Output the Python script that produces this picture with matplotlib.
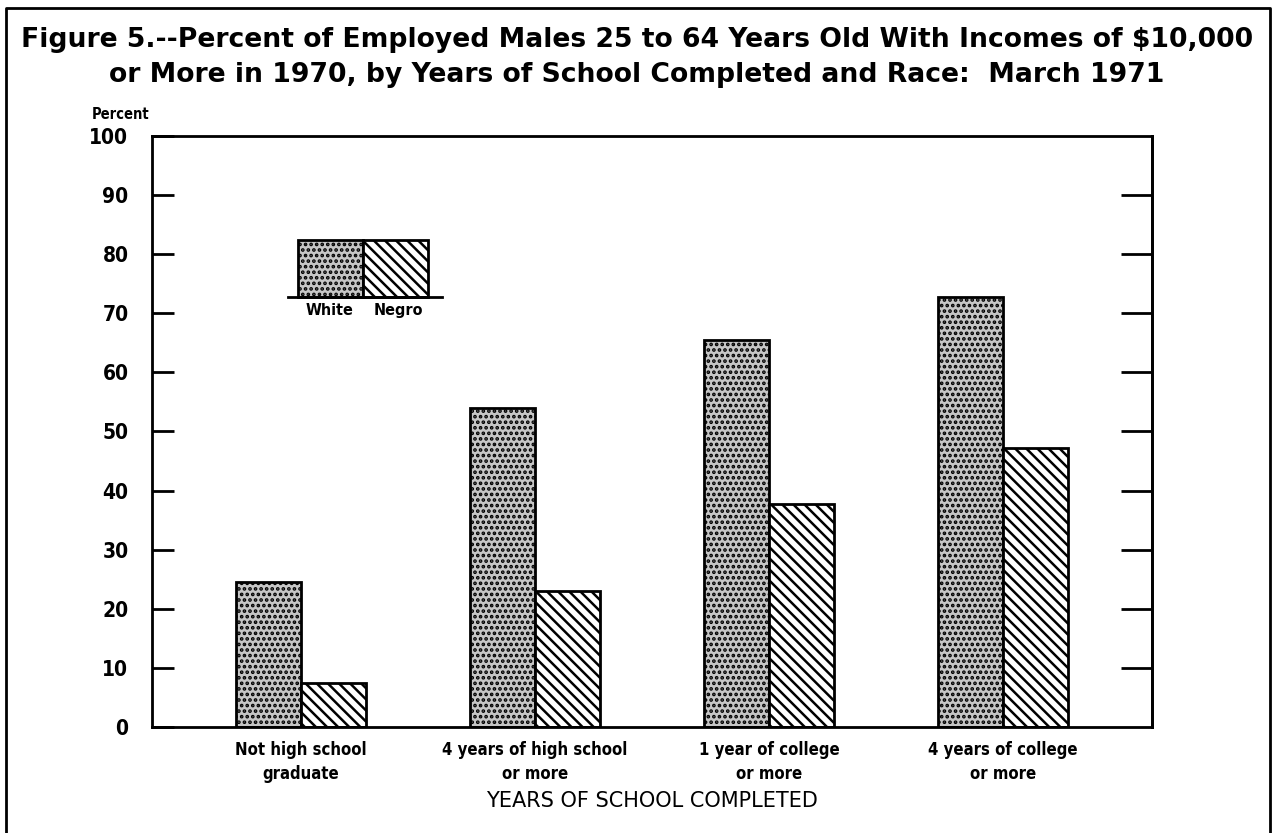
import numpy as np
import matplotlib.pyplot as plt
from matplotlib.patches import Rectangle

categories = ['Not high school\ngraduate', '4 years of high school\nor more',
              '1 year of college\nor more', '4 years of college\nor more']
white = [24.5, 54.0, 65.5, 72.7]
negro = [7.5, 23.0, 37.8, 47.2]
yticks = [0, 10, 20, 30, 40, 50, 60, 70, 80, 90, 100]

narrow = dict(family='DejaVu Sans', stretch='condensed', fontweight='bold')
plt.rcParams['hatch.linewidth'] = 1.8

fig = plt.figure(figsize=(12.74, 8.33), dpi=100)

# outer frame (open at the bottom)
fig.add_artist(plt.Line2D([0.005, 0.005, 0.997, 0.997], [0.0, 0.99, 0.99, 0.0],
                          transform=fig.transFigure, color='black', lw=2))

fig.text(0.5, 0.952, 'Figure 5.--Percent of Employed Males 25 to 64 Years Old With Incomes of $10,000',
         ha='center', va='center', fontsize=19.2, fontweight='bold', family='DejaVu Sans')
fig.text(0.5, 0.910, 'or More in 1970, by Years of School Completed and Race:  March 1971',
         ha='center', va='center', fontsize=19.2, fontweight='bold', family='DejaVu Sans')

ax = fig.add_axes([0.1193, 0.1273, 0.7849, 0.7094])
x = np.arange(len(categories))
w = 0.277
white_style = dict(facecolor='#c6c6c6', edgecolor='black', hatch='...', lw=2)
negro_style = dict(facecolor='white', edgecolor='black', hatch='\\\\\\', lw=2)
ax.bar(x - w / 2, white, w, **white_style)
ax.bar(x + w / 2, negro, w, **negro_style)

ax.set_xlim(-0.637, 3.637)
ax.set_ylim(0, 100)
ax.set_xticks(x)
ax.set_xticklabels(categories, fontsize=12, linespacing=1.45, **narrow)
ax.tick_params(axis='x', length=0, pad=10)
ax.set_yticks(yticks)
ax.set_yticklabels([str(t) for t in yticks], fontsize=15, **narrow)
ax.tick_params(axis='y', direction='in', length=16, width=2, pad=17)
for s in ax.spines.values():
    s.set_linewidth(2)

ax2 = ax.twinx()
ax2.set_ylim(0, 100)
ax2.set_yticks(yticks[1:-1])
ax2.tick_params(axis='y', direction='in', length=22, width=2, labelright=False)
ax2.spines['right'].set_linewidth(2)

ax.set_xlabel('YEARS OF SCHOOL COMPLETED', fontsize=15, family='DejaVu Sans', labelpad=6)
fig.text(0.072, 0.862, 'Percent', fontsize=10.5, va='center', **narrow)

# legend
ax.add_patch(Rectangle((0.146, 0.7276), 0.065, 0.0964, transform=ax.transAxes, **white_style))
ax.add_patch(Rectangle((0.211, 0.7276), 0.065, 0.0964, transform=ax.transAxes, **negro_style))
ax.plot([0.136, 0.290], [0.7276, 0.7276], transform=ax.transAxes, color='black', lw=2)
ax.text(0.178, 0.705, 'White', transform=ax.transAxes, ha='center', va='center',
        fontsize=11.5, **narrow)
ax.text(0.246, 0.705, 'Negro', transform=ax.transAxes, ha='center', va='center',
        fontsize=11.5, **narrow)

fig.savefig('out.png', dpi=100)
